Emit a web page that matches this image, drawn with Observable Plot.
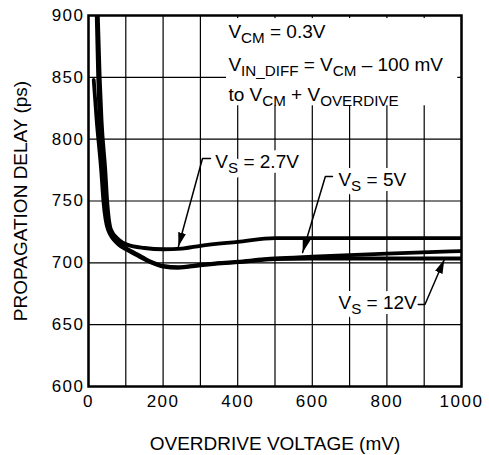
<!DOCTYPE html>
<html><head><meta charset="utf-8">
<script src="https://cdn.jsdelivr.net/npm/d3@7"></script>
<script src="https://cdn.jsdelivr.net/npm/@observablehq/plot@0.6"></script>
<style>
body{margin:0;background:#fff;}
#chart svg text{font-family:"Liberation Sans",Arial,sans-serif;}
g[aria-label="x-axis tick label"] text, g[aria-label="y-axis tick label"] text{letter-spacing:1.5px;}
</style></head><body><div id="chart"></div>
<script>
// ---- data ----
const xTicks = [0, 200, 400, 600, 800, 1000];
const xGrid = [0, 100, 200, 300, 400, 500, 600, 700, 800, 900, 1000];
const yTicks = [600, 650, 700, 750, 800, 850, 900];

const series = ["VS = 2.7V", "VS = 5V", "VS = 12V"];
const od27 = [25, 30, 35, 45, 50, 60, 80, 105, 150, 200, 250, 300, 400, 500, 1000];
const pd27 = [900, 850, 815, 775, 750, 727, 719, 714.5, 712, 711, 711.5, 713.8, 717, 720, 720];
const od5 = [22, 26, 30, 40, 45, 56, 80, 100, 130, 166, 200, 240, 300, 400, 500, 600, 800, 1000];
const pd5 = [900, 850, 815, 775, 750, 726, 716, 712, 707, 701, 697.5, 696.5, 698.5, 701, 703.5, 705, 707.5, 709.5];
const od12 = [14, 22, 34, 40, 52, 80, 100, 130, 166, 200, 240, 300, 400, 500, 600, 800, 1000];
const pd12 = [848, 815, 775, 750, 727, 715, 711, 706, 700.5, 697, 696, 698, 700.5, 703, 703.5, 703.5, 703.5];

const noteLines = ["V_{CM} = 0.3V", "V_{IN_DIFF} = V_{CM} – 100 mV", "to V_{CM} + V_{OVERDIVE}"];
const seriesLabels = ["V_{S} = 2.7V", "V_{S} = 5V", "V_{S} = 12V"];

// ---- annotation anchors (data units) ----
const notes = noteLines.map((t, i) => ({t, x: 375, y: [887, 860.4, 836][i]}));
const noteBox = [{x1: 370, x2: 990, y1: 827, y2: 897.5}];
const labelsStart = [
  {t: seriesLabels[0], x: 340, y: 782},
  {t: seriesLabels[1], x: 670, y: 767.4}
];
const labelsEnd = [{t: seriesLabels[2], x: 880, y: 668}];
const leaders = [
  {s: "a", pts: [[327, 784.4], [305.6, 784.4], [241, 713.2]]},
  {s: "b", pts: [[654, 769.8], [635, 769.8], [574, 708.3]]},
  {s: "c", pts: [[884, 666.3], [902, 666.3], [954, 702.7]]}
];

const curves = [];
[[od27, pd27], [od5, pd5], [od12, pd12]].forEach(([xs, ys], i) =>
  xs.forEach((x, j) => curves.push({series: series[i], x, y: ys[j]})));
const leaderRows = leaders.flatMap(l => l.pts.map(([x, y]) => ({s: l.s, x, y})));

const halo = {x: "x", y: "y", text: "t", fill: "black", stroke: "white", strokeWidth: 10, paintOrder: "stroke", strokeLinejoin: "round", fontSize: 19, lineAnchor: "middle"};

const chart = Plot.plot({
  width: 489, height: 455,
  marginTop: 15, marginRight: 28, marginBottom: 69, marginLeft: 88,
  style: {fontFamily: "Liberation Sans, Arial, sans-serif", fontSize: "17px", color: "black", background: "white"},
  x: {domain: [0, 1000], ticks: xTicks},
  y: {domain: [600, 900], ticks: yTicks},
  marks: [
    Plot.ruleX(xGrid, {stroke: "black", strokeWidth: 1.2}),
    Plot.ruleY(yTicks, {stroke: "black", strokeWidth: 1.2}),
    Plot.rect(noteBox, {x1: "x1", x2: "x2", y1: "y1", y2: "y2", fill: "white"}),
    Plot.line(curves, {x: "x", y: "y", z: "series", stroke: "black", strokeWidth: 3.8, curve: "monotone-x", clip: true}),
    Plot.text(notes, {x: "x", y: "y", text: "t", textAnchor: "start", fill: "black", fontSize: 19, lineAnchor: "middle"}),
    Plot.text(labelsStart, {...halo, textAnchor: "start"}),
    Plot.text(labelsEnd, {...halo, textAnchor: "end"}),
    Plot.line(leaderRows, {x: "x", y: "y", z: "s", stroke: "black", strokeWidth: 1.5, markerEnd: "arrow"}),
    Plot.axisX({ticks: xTicks, tickSize: 0, tickPadding: 8, label: null, fontSize: 17, tickFormat: d => String(d)}),
    Plot.axisY({ticks: yTicks, tickSize: 0, tickPadding: 4, label: null, fontSize: 17, tickFormat: d => String(d)}),
    Plot.text(["OVERDRIVE VOLTAGE (mV)"], {frameAnchor: "bottom", dy: 57, textAnchor: "middle", lineAnchor: "middle", fontSize: 19, fill: "black"}),
    Plot.text(["PROPAGATION DELAY (ps)"], {frameAnchor: "left", dx: -68, rotate: -90, textAnchor: "middle", lineAnchor: "middle", fontSize: 19, fill: "black"}),
    Plot.frame({stroke: "black", strokeWidth: 2.5})
  ]
});

// subscripts
d3.select(chart).selectAll("text").each(function () {
  const t = this.textContent;
  if (!t.includes("_{")) return;
  const parts = t.split(/(_\{[^}]*\})/).filter(s => s.length);
  const sel = d3.select(this);
  sel.text(null);
  let shifted = false;
  for (const p of parts) {
    const m = p.match(/^_\{([^}]*)\}$/);
    if (m) {
      sel.append("tspan").attr("dy", shifted ? null : 5).attr("font-size", "0.8em").text(m[1]);
      shifted = true;
    } else {
      sel.append("tspan").attr("dy", shifted ? -5 : null).text(p);
      shifted = false;
    }
  }
});

// filled arrowheads
const svg = d3.select(chart);
const mk = svg.selectAll("marker");
mk.attr("viewBox", "-14 -5 14 10").attr("markerUnits", "userSpaceOnUse").attr("markerWidth", 14).attr("markerHeight", 10)
  .attr("refX", 0).attr("refY", 0).attr("fill", "black").attr("stroke", "none");
mk.selectAll("path").attr("d", "M-14,-4L0,0L-14,4Z").attr("fill", "black").attr("stroke", "none");

document.getElementById("chart").appendChild(chart);
</script>
</body></html>
